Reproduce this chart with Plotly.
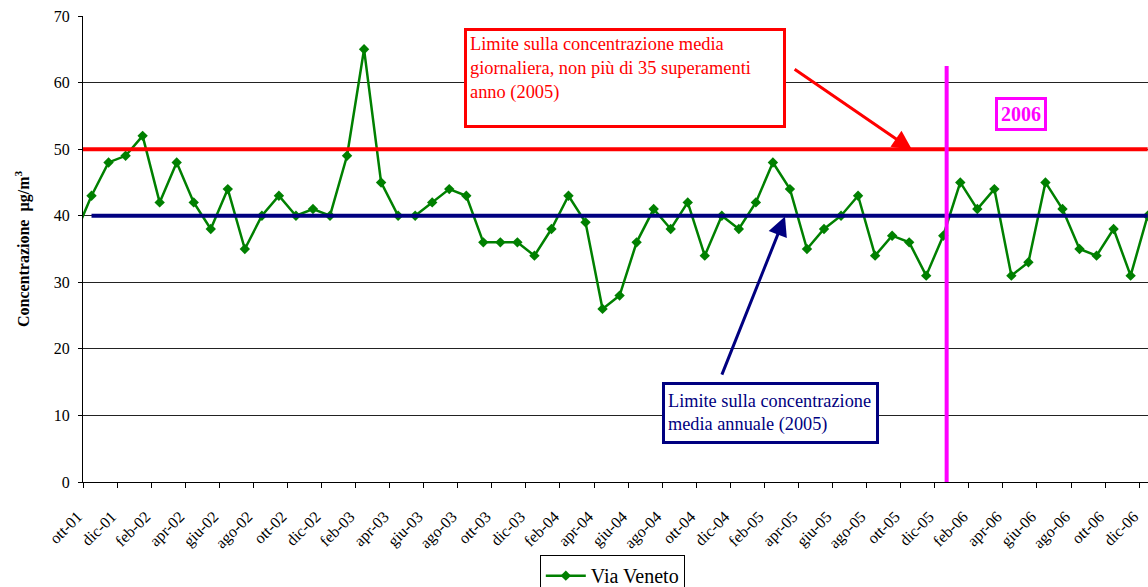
import plotly.graph_objects as go

# ---- data ----
mesi = [
    "set-01", "ott-01", "nov-01", "dic-01",
    "gen-02", "feb-02", "mar-02", "apr-02", "mag-02", "giu-02", "lug-02", "ago-02", "set-02", "ott-02", "nov-02", "dic-02",
    "gen-03", "feb-03", "mar-03", "apr-03", "mag-03", "giu-03", "lug-03", "ago-03", "set-03", "ott-03", "nov-03", "dic-03",
    "gen-04", "feb-04", "mar-04", "apr-04", "mag-04", "giu-04", "lug-04", "ago-04", "set-04", "ott-04", "nov-04", "dic-04",
    "gen-05", "feb-05", "mar-05", "apr-05", "mag-05", "giu-05", "lug-05", "ago-05", "set-05", "ott-05", "nov-05", "dic-05",
    "gen-06", "feb-06", "mar-06", "apr-06", "mag-06", "giu-06", "lug-06", "ago-06", "set-06", "ott-06", "nov-06", "dic-06",
]
via_veneto = [
    37, 43, 48, 49,
    52, 42, 48, 42, 38, 44, 35, 40, 43, 40, 41, 40,
    49, 65, 45, 40, 40, 42, 44, 43, 36, 36, 36, 34,
    38, 43, 39, 26, 28, 36, 41, 38, 42, 34, 40, 38,
    42, 48, 44, 35, 38, 40, 43, 34, 37, 36, 31, 37,
    45, 41, 44, 31, 33, 45, 41, 35, 34, 38, 31, 40,
]
etichette_asse = [
    "ott-01", "dic-01", "feb-02", "apr-02", "giu-02", "ago-02", "ott-02", "dic-02",
    "feb-03", "apr-03", "giu-03", "ago-03", "ott-03", "dic-03", "feb-04", "apr-04",
    "giu-04", "ago-04", "ott-04", "dic-04", "feb-05", "apr-05", "giu-05", "ago-05",
    "ott-05", "dic-05", "feb-06", "apr-06", "giu-06", "ago-06", "ott-06", "dic-06",
]
limite_giornaliero = 50   # µg/m3
limite_annuale = 40       # µg/m3
y_ticks = [0, 10, 20, 30, 40, 50, 60, 70]

# ---- positions derived from data ----
x_idx = [i - 1 for i in range(len(mesi))]          # ott-01 -> 0
pos = {m: i - 1 for i, m in enumerate(mesi)}
tick_pos = [pos[m] for m in etichette_asse]
bordi = [p - 0.5 for p in tick_pos]
x_annuale = [x for x in x_idx if x >= 0]

FONT = "Liberation Serif"
GREEN = "#008000"
RED = "#FF0000"
NAVY = "#000080"
MAGENTA = "#FF00FF"

fig = go.Figure()

fig.add_trace(go.Scatter(
    x=x_idx, y=via_veneto, mode="lines+markers", name="Via Veneto",
    line=dict(color=GREEN, width=2.5),
    marker=dict(symbol="diamond", size=8, color=GREEN),
))
fig.add_trace(go.Scatter(
    x=x_idx, y=[limite_giornaliero] * len(x_idx), mode="lines",
    line=dict(color=RED, width=4), showlegend=False, hoverinfo="skip",
))
fig.add_trace(go.Scatter(
    x=x_annuale, y=[limite_annuale] * len(x_annuale), mode="lines",
    line=dict(color=NAVY, width=4), showlegend=False, hoverinfo="skip",
))

# separator for 2006
fig.add_shape(type="line", x0=50.2, x1=50.2, y0=0, y1=62.5, xref="x", yref="y",
              line=dict(color=MAGENTA, width=4), layer="above")

# red annotation box + arrow
fig.add_annotation(
    x=31.32, y=60.76, xref="x", yref="y", xanchor="center", yanchor="middle",
    text="Limite sulla concentrazione media<br>giornaliera, non più di 35 superamenti<br>anno (2005)",
    showarrow=False, align="left", valign="top", width=310, height=88,
    font=dict(family=FONT, size=18.4, color=RED),
    bordercolor=RED, borderwidth=3, borderpad=3, bgcolor="white",
)
fig.add_annotation(
    x=48.17, y=49.9, xref="x", yref="y", ax=41.1, ay=62.3, axref="x", ayref="y",
    text=" ", showarrow=True, arrowhead=2, arrowsize=1.3, arrowwidth=3, arrowcolor=RED,
)

# navy annotation box + arrow
fig.add_annotation(
    x=39.85, y=10.37, xref="x", yref="y", xanchor="center", yanchor="middle",
    text="Limite sulla concentrazione<br>media annuale (2005)",
    showarrow=False, align="left", valign="middle", width=205, height=50,
    font=dict(family=FONT, size=18.3, color=NAVY),
    bordercolor=NAVY, borderwidth=3, borderpad=3, bgcolor="white",
)
fig.add_annotation(
    x=40.71, y=39.9, xref="x", yref="y", ax=36.83, ay=15.0, axref="x", ayref="y",
    text=" ", showarrow=True, arrowhead=2, arrowsize=1.3, arrowwidth=3, arrowcolor=NAVY,
)

# 2006 label
fig.add_annotation(
    x=54.57, y=55.28, xref="x", yref="y", xanchor="center", yanchor="middle",
    text="<b>2006</b>", showarrow=False,
    font=dict(family=FONT, size=20, color=MAGENTA),
    bordercolor=MAGENTA, borderwidth=3, borderpad=3, bgcolor="white",
)

fig.update_layout(
    width=1148, height=587,
    margin=dict(l=83, r=0, t=16, b=105, autoexpand=False),
    paper_bgcolor="white", plot_bgcolor="white",
    font=dict(family=FONT, color="black"),
    showlegend=True,
    legend=dict(
        orientation="h", x=0.497, xanchor="center", y=-0.157, yanchor="top",
        bordercolor="black", borderwidth=1, bgcolor="white", itemwidth=40,
        font=dict(family=FONT, size=20, color="black"),
    ),
    xaxis=dict(
        range=[-0.5, 62.02], showgrid=False, zeroline=False, automargin=False,
        showline=True, linecolor="black", linewidth=1,
        tickmode="array", tickvals=tick_pos, ticktext=etichette_asse,
        tickangle=-45, ticks="", ticklabelshift=-14, ticklabelstandoff=18,
        tickfont=dict(family=FONT, size=16, color="black"),
        minor=dict(tickmode="array", tickvals=bordi, ticks="outside",
                   ticklen=5, tickcolor="black", tickwidth=1, showgrid=False),
    ),
    yaxis=dict(
        range=[0, 70], tickmode="array", tickvals=y_ticks, automargin=False,
        showgrid=True, gridcolor="#222222", gridwidth=1, zeroline=False,
        showline=True, linecolor="black", linewidth=1,
        ticks="outside", ticklen=4, tickcolor="black", ticklabelstandoff=5,
        tickfont=dict(family=FONT, size=16, color="black"),
        title=dict(text="<b>Concentrazione  µg/m<sup>3</sup></b>", standoff=20,
                   font=dict(family=FONT, size=16, color="black")),
    ),
)

fig.write_html(
    "out.html",
    config={"displayModeBar": False},
    post_script="document.body.style.margin='0';document.body.style.overflow='hidden';",
)
